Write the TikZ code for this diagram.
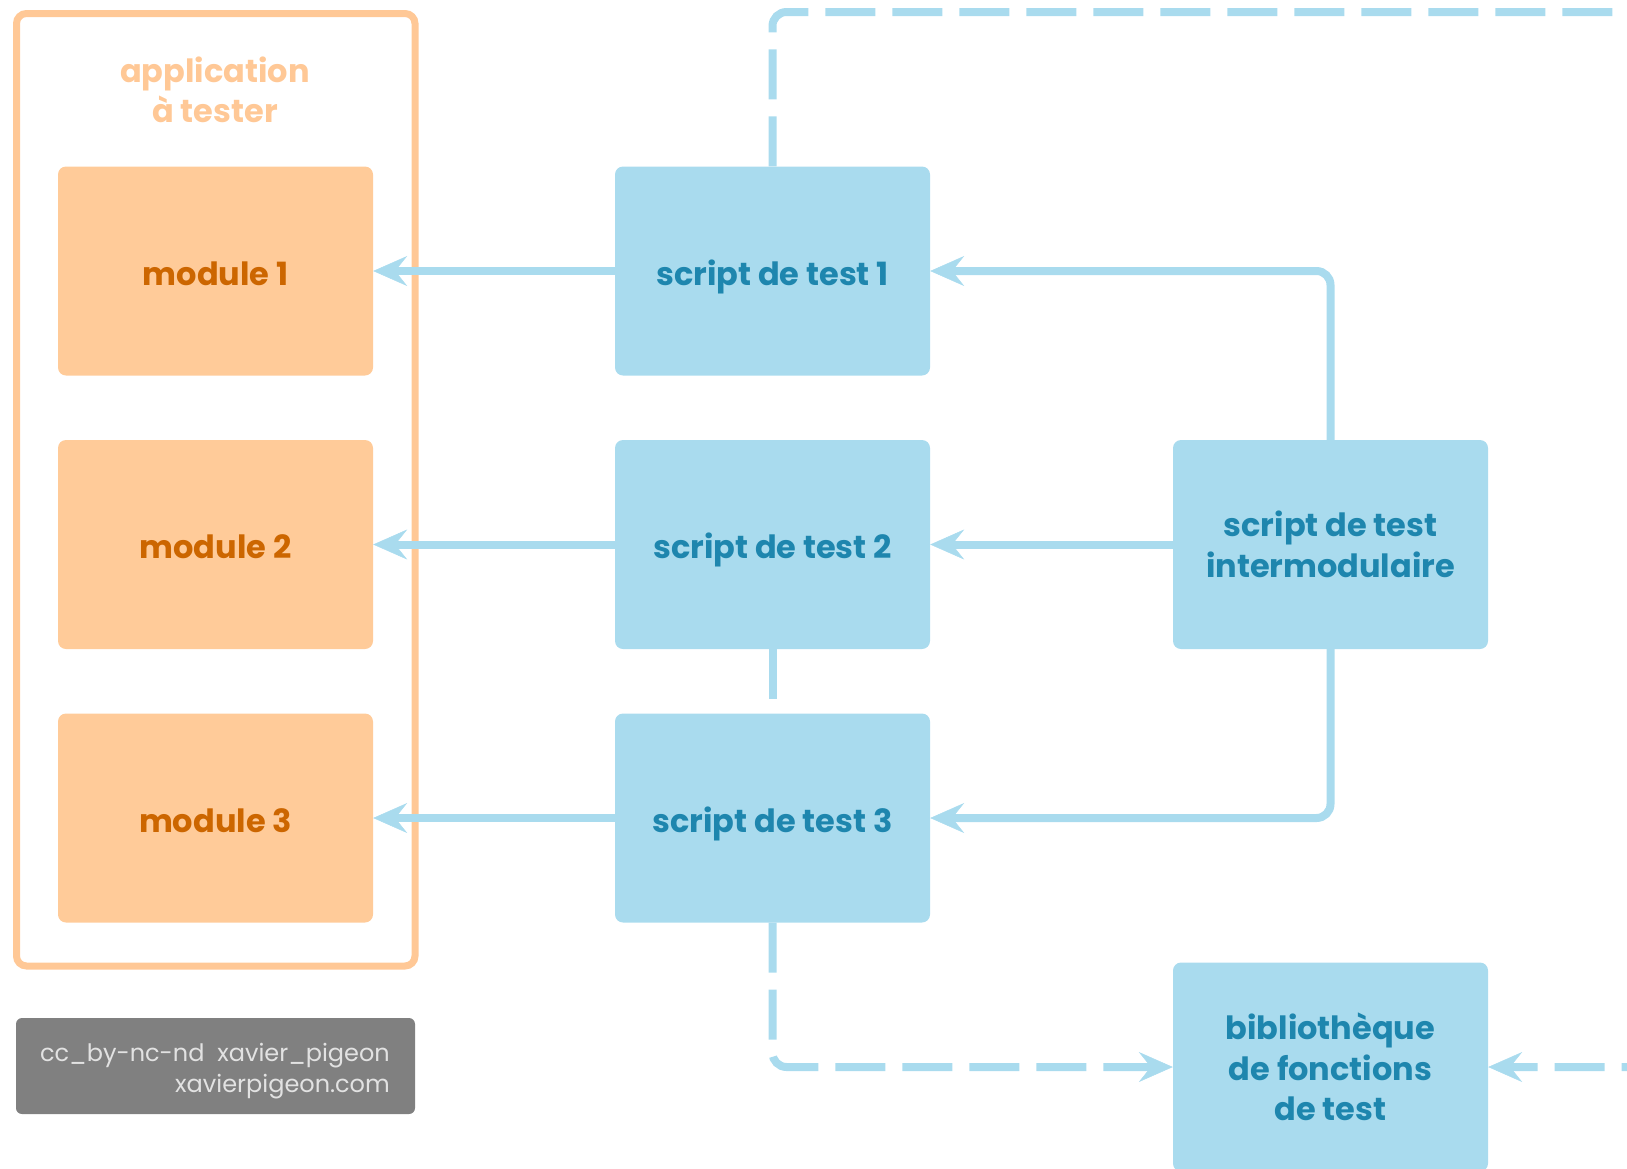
\documentclass[tikz,border=0pt]{standalone}
\usepackage{fontspec}
\setmainfont{Poppins}
\usetikzlibrary{arrows.meta}
\definecolor{appline}{HTML}{FFC896}
\definecolor{modfill}{HTML}{FFCB99}
\definecolor{modtext}{HTML}{CC6600}
\definecolor{blfill}{HTML}{A9DBEE}
\definecolor{bltext}{HTML}{1E86AE}
\definecolor{ccfill}{HTML}{808080}
\definecolor{cctext}{HTML}{E2E2E2}
\begin{document}
\begin{tikzpicture}[x=1pt,y=-1pt,
  box/.style={rounded corners=8pt, minimum width=315pt, minimum height=209pt,
    inner sep=0pt, align=center, font=\fontsize{32}{40.5}\selectfont\bfseries},
  oneline/.style={text height=28pt, text depth=0pt},
  module/.style={box, oneline, fill=modfill, text=modtext},
  script/.style={box, fill=blfill, text=bltext},
  link/.style={draw=blfill, line width=8pt},
  tip/.style={-{Stealth[length=34pt,width=30pt,inset=12pt,line width=0.5pt]}},
  dashlink/.style={link, dash pattern=on 50pt off 17pt},
]
\useasboundingbox (0,0) rectangle (1627,1168);

% application frame
\node[draw=appline, line width=7pt, rounded corners=10pt,
  minimum width=398.5pt, minimum height=952.5pt, inner sep=0pt]
  (app) at (215.75,489.75) {};
\node[text=appline, align=center, font=\fontsize{32}{40.5}\selectfont\bfseries]
  (apptitle) at (215,90) {application\\à tester};

% modules
\node[module] (m1) at (215.5,271) {module 1};
\node[module] (m2) at (215.5,544.5) {module 2};
\node[module] (m3) at (215.5,818) {module 3};

% test scripts
\node[script, oneline] (s1) at (772.5,271) {script de test 1};
\node[script, oneline] (s2) at (772.5,544.5) {script de test 2};
\node[script, oneline] (s3) at (772.5,818) {script de test 3};
\node[script] (im) at (1330.5,544.5) {script de test\\intermodulaire};
\node[script] (lib) at (1330.5,1067) {bibliothèque\\de fonctions\\de test};

% licence box
\node[fill=ccfill, rounded corners=6pt, minimum width=399pt, minimum height=96pt,
  inner sep=0pt] (cc) at (215.5,1066) {};
\node[anchor=east, align=right, inner sep=0pt, text=cctext,
  font=\fontsize{24}{31}\selectfont] (cctxt) at (390,1071)
  {cc\_by-nc-nd\ \ xavier\_pigeon\\xavierpigeon.com};

% connectors
\draw[link, tip] (s1.west) -- (m1.east);
\draw[link, tip] (s2.west) -- (m2.east);
\draw[link, tip] (s3.west) -- (m3.east);
\draw[link, tip] (im.west) -- (s2.east);
\draw[link, tip, rounded corners=14pt] (im.north) |- (s1.east);
\draw[link, tip, rounded corners=14pt] (im.south) |- (s3.east);
\draw[dashlink] (s2.south) -- (s3.north);
\draw[dashlink, tip, rounded corners=14pt] (s3.south) |- (lib.west);
\coordinate (far) at (1665,12);
\draw[dashlink, tip, rounded corners=14pt] (s1.north) |- (far) |- (lib.east);
\end{tikzpicture}
\end{document}
